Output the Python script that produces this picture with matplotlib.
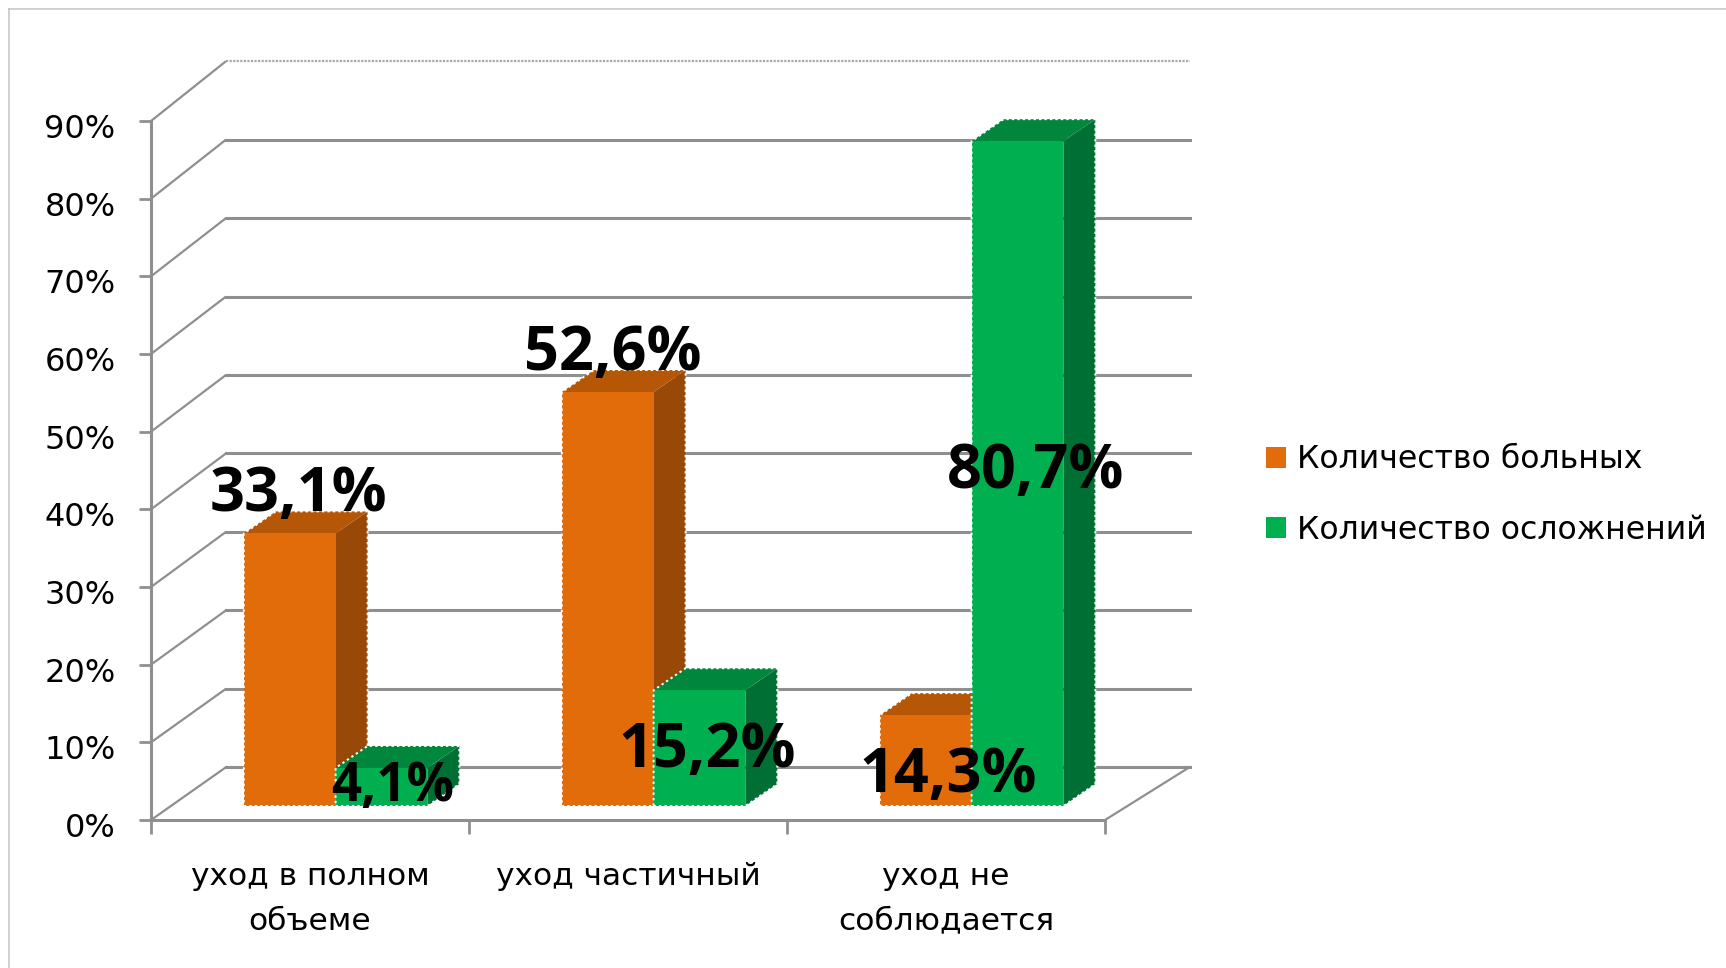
import matplotlib
matplotlib.use("Agg")
import matplotlib.pyplot as plt
from matplotlib.patches import Polygon, Patch
from matplotlib.transforms import ScaledTranslation

categories = ["уход в полном\nобъеме", "уход частичный", "уход не\nсоблюдается"]
series_names = ["Количество больных", "Количество осложнений"]
patients_bar = [35.1, 53.3, 11.7]
complications_bar = [4.9, 14.9, 85.6]
patients_labels = ["33,1%", "52,6%", "14,3%"]
complications_labels = ["4,1%", "15,2%", "80,7%"]
y_ticks = list(range(0, 100, 10))

W, H = 1726, 968
fig = plt.figure(figsize=(W / 100, H / 100), dpi=100, facecolor="white")
ax = fig.add_axes([151 / W, 1 - 820 / H, (1105 - 151) / W, (820 - 121) / H])
ax.set_xlim(0, 3)
ax.set_ylim(0, 90)
ax.patch.set_alpha(0)

GRID = "#8f8f8f"
DX, DY = 75 / 318, 59 / 7.77   # depth of the 3-D box in data units
BACK_Y0, BACK_SCALE = 6.8, 1.0100  # back wall is very slightly larger than the front
FRONT, BACK = 14 / 59, 36 / 59  # depth fractions of the bar faces
BAR_DX = 32 / 318
GRID_END = 3.03


def proj(x, y, d):
    return (x + d * DX, y + d * DY)


for v in y_ticks:
    lw = 1.6 if v == 90 else 2.2
    ls = (0, (1, 0.6)) if v == 90 else "-"
    col = "#a8a8a8" if v == 90 else GRID
    xb = DX
    yb = BACK_Y0 + v * BACK_SCALE
    ax.plot([0, xb], [v, yb], color=GRID, lw=1.6, clip_on=False, zorder=1,
            solid_capstyle="butt")
    ax.plot([xb, GRID_END + DX], [yb, yb], color=col, lw=lw, ls=ls, clip_on=False, zorder=1)
ax.plot([3, GRID_END + DX], [0, BACK_Y0], color=GRID, lw=1.6, clip_on=False, zorder=1)

FACES = {
    "orange": ("#E36C0A", "#984807", "#B65707"),
    "green": ("#00B050", "#006F33", "#00873D"),
}


def bar3d(left, width, val, faces, z):
    front, side, top = faces
    ox, oy0 = proj(left, 0, FRONT)
    x0, x1 = ox, ox + width
    y0, y1 = oy0, oy0 + val
    bdx, bdy = BAR_DX, (BACK - FRONT) * DY
    kw = dict(closed=True, clip_on=False, zorder=z, lw=0)
    ax.add_patch(Polygon([(x1, y0), (x1, y1), (x1 + bdx, y1 + bdy), (x1 + bdx, y0 + bdy)],
                         facecolor=side, **kw))
    ax.add_patch(Polygon([(x0, y1), (x1, y1), (x1 + bdx, y1 + bdy), (x0 + bdx, y1 + bdy)],
                         facecolor=top, **kw))
    ax.add_patch(Polygon([(x0, y0), (x1, y0), (x1, y1), (x0, y1)], facecolor=front, **kw))
    # dotted white rim round the bar's silhouette
    ax.add_patch(Polygon([(x0, y0), (x1, y0), (x1 + bdx, y0 + bdy), (x1 + bdx, y1 + bdy),
                          (x0 + bdx, y1 + bdy), (x0, y1)], closed=True, fill=False,
                         edgecolor="white", lw=1.4, ls=(0, (1.2, 1.6)), clip_on=False, zorder=z))


BAR_LEFT, BAR_W = 0.236, 0.2885
for i in range(3):
    bar3d(i + BAR_LEFT, BAR_W, patients_bar[i], FACES["orange"], 3 + i * 2)
    bar3d(i + BAR_LEFT + BAR_W, BAR_W, complications_bar[i], FACES["green"], 4 + i * 2)

# data labels: pixel offsets from the middle of each bar's top front edge
pat_off = [(9, 38), (5, 38), (22, -61)]
com_off = [(11, -19), (8, -61), (18, -331)]
com_size = [38, 44, 44]
LABEL_FONT = dict(family="Open Sans", fontweight="bold", color="black",
                  ha="center", va="center", zorder=20, annotation_clip=False)
for i in range(3):
    xp, yp = proj(i + BAR_LEFT + BAR_W / 2, patients_bar[i], FRONT)
    ax.annotate(patients_labels[i], (xp, yp), xytext=pat_off[i],
                textcoords="offset pixels", fontsize=44, **LABEL_FONT)
    xc, yc = proj(i + BAR_LEFT + 1.5 * BAR_W, complications_bar[i], FRONT)
    ax.annotate(complications_labels[i], (xc, yc), xytext=com_off[i],
                textcoords="offset pixels", fontsize=com_size[i], **LABEL_FONT)

# axes
for s in ("top", "right"):
    ax.spines[s].set_visible(False)
for s in ("left", "bottom"):
    ax.spines[s].set_color(GRID)
    ax.spines[s].set_linewidth(2.2)
    ax.spines[s].set_zorder(2)
ax.set_yticks(y_ticks)
ax.set_yticklabels([f"{v}%" for v in y_ticks], fontsize=23, color="black")
ax.tick_params(axis="y", length=9, width=2, color=GRID, pad=16.5)
shift = ScaledTranslation(0, -5 / 100, fig.dpi_scale_trans)
for lab in ax.get_yticklabels():
    lab.set_transform(lab.get_transform() + shift)
ax.set_xticks([0.5, 1.5, 2.5])
ax.set_xticklabels(categories, fontsize=22.5, color="black", linespacing=1.7)
ax.set_xticks([0, 1, 2, 3], minor=True)
ax.tick_params(axis="x", which="major", length=0, pad=30)
ax.tick_params(axis="x", which="minor", length=10, width=2, color=GRID)

# legend
handles = [Patch(facecolor="#E36C0A", lw=0), Patch(facecolor="#00B050", lw=0)]
fig.legend(handles, series_names, loc="center left",
           bbox_to_anchor=(1266 / W, 1 - 495 / H), frameon=False, fontsize=22.7,
           handlelength=0.64, handleheight=0.64, handletextpad=0.35, labelspacing=1.25,
           borderpad=0, borderaxespad=0)

# picture frame
fig.add_artist(plt.Line2D([9 / W, 9 / W], [0, 1 - 9 / H], color="#c8c8c8", lw=1.2))
fig.add_artist(plt.Line2D([9 / W, 1], [1 - 9 / H, 1 - 9 / H], color="#c8c8c8", lw=1.2))

fig.savefig("out.png", dpi=100)
